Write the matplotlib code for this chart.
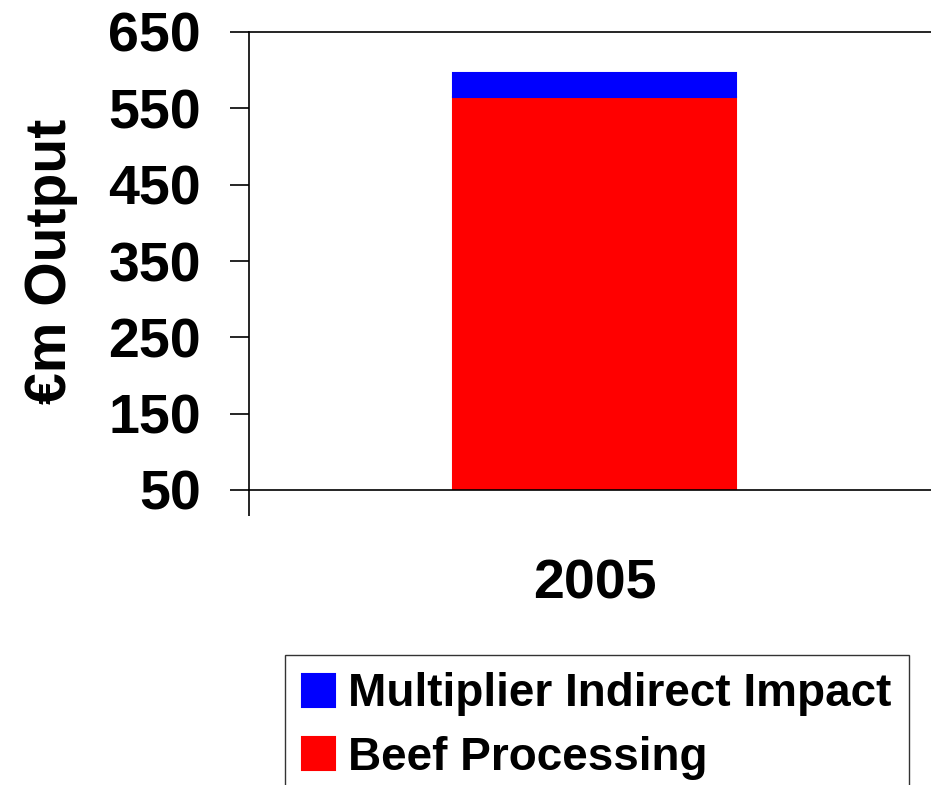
"""Stacked output bar: beef processing plus multiplier indirect impact, 2005."""

import matplotlib

matplotlib.use("Agg")
import matplotlib.pyplot as plt

years = ["2005"]
beef_processing = [565]
indirect_impact = [31]
y_ticks = [50, 150, 250, 350, 450, 550, 650]

plt.rcParams["font.family"] = ["Liberation Sans", "DejaVu Sans"]
plt.rcParams["font.weight"] = "bold"

fig = plt.figure(figsize=(9.31, 7.85), dpi=100)
ax = fig.add_axes([249 / 931, 1 - 490 / 785, 691 / 931, 458 / 785])

x = list(range(len(years)))
ax.bar(x, beef_processing, width=0.41, color="#ff0000", edgecolor="#ff0000",
       lw=1.5, label="Beef Processing", zorder=2)
ax.bar(x, indirect_impact, width=0.41, bottom=beef_processing, color="#0000ff",
       edgecolor="#0000ff", lw=1.5, label="Multiplier Indirect Impact", zorder=2)

ax.set_xlim(-0.5, 0.5)
ax.set_ylim(50, 650)
ax.set_yticks(y_ticks)
ax.set_yticklabels([str(v) for v in y_ticks], fontsize=40, fontweight="bold")
ax.tick_params(axis="y", direction="out", length=13.7, width=1.2, pad=21,
               color="black")

ax.set_xticks(x)
ax.set_xticklabels(years, fontsize=40, fontweight="bold")
ax.set_xticks([-0.5, 0.5], minor=True)
ax.tick_params(axis="x", which="major", length=0, pad=49)
ax.tick_params(axis="x", which="minor", direction="out", length=18.7, width=1.2,
               color="black")

ax.set_ylabel("€m Output", fontsize=41, fontweight="bold", labelpad=22)

for side in ("left", "top", "bottom"):
    ax.spines[side].set_color("black")
    ax.spines[side].set_linewidth(1.2)
ax.spines["right"].set_visible(False)

handles, labels = ax.get_legend_handles_labels()
leg = fig.legend(handles[::-1], labels[::-1], loc="upper left",
                 bbox_to_anchor=(285 / 931, 1 - 655 / 785),
                 prop={"size": 33, "weight": "bold"},
                 frameon=True, fancybox=False, borderaxespad=0,
                 handlelength=0.72, handleheight=0.72, handletextpad=0.27,
                 borderpad=0.38, labelspacing=0.42)
leg.get_frame().set_edgecolor("black")
leg.get_frame().set_linewidth(1.0)

fig.savefig("out.png", dpi=100)
